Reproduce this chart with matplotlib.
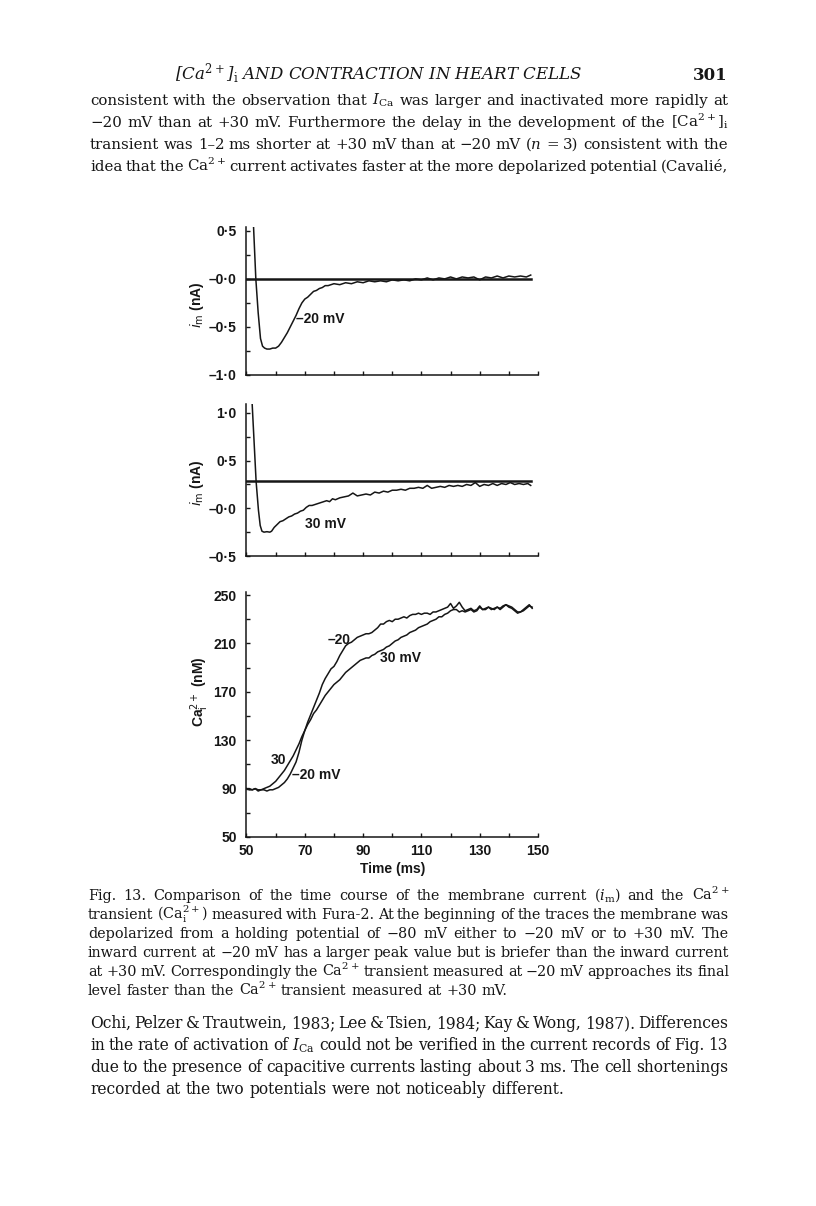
import matplotlib
matplotlib.use('Agg')
import matplotlib.pyplot as plt

plt.rcParams['font.family'] = ['Liberation Sans', 'DejaVu Sans']
plt.rcParams['mathtext.fontset'] = 'dejavuserif'

# --- membrane current, -20 mV step (nA) ---
t_im_m20 = [51.9, 53.2, 54.0, 54.8, 55.5, 56.2, 57.0, 58.0, 59.0, 60.0, 61.0, 62.0, 63.0, 64.0,
            65.0, 66.0, 67.0, 68.0, 69.0, 70.0, 71.0, 72.0, 73.0, 74.0, 75.0, 76.0, 77.0, 78.0,
            79.0, 80.0, 82.0, 84.0, 86.0, 88.0, 90.0, 92.0, 94.0, 96.0, 98.0, 100.0, 102.0,
            104.0, 106.0, 108.0, 110.0, 112.0, 114.0, 116.0, 118.0, 120.0, 122.0, 124.0, 126.0,
            128.0, 130.0, 132.0, 134.0, 136.0, 138.0, 140.0, 142.0, 144.0, 146.0, 147.5]
im_m20 = [0.9, 0.0, -0.35, -0.62, -0.70, -0.72, -0.73, -0.73, -0.72, -0.72, -0.70, -0.66, -0.61,
          -0.56, -0.50, -0.44, -0.38, -0.31, -0.25, -0.21, -0.19, -0.16, -0.13, -0.12, -0.10,
          -0.09, -0.07, -0.07, -0.06, -0.05, -0.06, -0.04, -0.05, -0.03, -0.04, -0.02, -0.03,
          -0.02, -0.03, -0.01, -0.02, -0.01, -0.02, 0.00, -0.01, 0.01, -0.01, 0.01, 0.00, 0.02,
          0.00, 0.02, 0.01, 0.02, -0.01, 0.02, 0.01, 0.03, 0.01, 0.03, 0.02, 0.03, 0.02, 0.04]
hold_m20 = 0.0

# --- membrane current, +30 mV step (nA) ---
t_im_p30 = [51.6, 53.3, 54.1, 54.7, 55.3, 56.0, 57.0, 58.0, 58.6, 59.5, 60.5, 61.5, 62.5, 63.5,
            64.5, 65.5, 66.5, 67.5, 68.5, 69.5, 70.5, 71.5, 72.5, 73.5, 74.5, 75.5, 76.5, 77.5,
            78.5, 79.5, 80.5, 82.0, 83.5, 85.0, 86.5, 88.0, 89.5, 91.0, 92.5, 94.0, 95.5, 97.0,
            98.5, 100.0, 101.5, 103.0, 104.5, 106.0, 107.5, 109.0, 110.5, 112.0, 113.5, 115.0,
            116.5, 118.0, 119.5, 121.0, 122.5, 124.0, 125.5, 127.0, 128.5, 130.0, 131.5, 133.0,
            134.5, 136.0, 137.5, 139.0, 140.5, 142.0, 143.5, 145.0, 146.5, 147.5]
im_p30 = [1.3, 0.28, -0.02, -0.18, -0.24, -0.25, -0.245, -0.25, -0.24, -0.20, -0.17, -0.14, -0.13,
          -0.11, -0.09, -0.08, -0.06, -0.05, -0.03, -0.02, 0.01, 0.03, 0.03, 0.04, 0.05, 0.06,
          0.07, 0.08, 0.07, 0.10, 0.09, 0.11, 0.12, 0.13, 0.16, 0.13, 0.14, 0.15, 0.14, 0.17,
          0.16, 0.18, 0.17, 0.19, 0.19, 0.20, 0.19, 0.21, 0.21, 0.22, 0.21, 0.24, 0.21, 0.22,
          0.23, 0.22, 0.24, 0.23, 0.24, 0.23, 0.25, 0.24, 0.27, 0.23, 0.25, 0.24, 0.26, 0.24,
          0.26, 0.25, 0.27, 0.25, 0.26, 0.25, 0.26, 0.24]
hold_p30 = 0.286

# --- Ca transients (nM) ---
t_ca = [50, 51, 52, 53, 54, 55, 56, 57, 58, 59, 60, 61, 62, 63, 64, 65, 66, 67, 68, 69,
        70, 71, 72, 73, 74, 75, 76, 77, 78, 79, 80, 81, 82, 83, 84, 85, 86, 87, 88, 89,
        90, 91, 92, 93, 94, 95, 96, 97, 98, 99, 100, 101, 102, 103, 104, 105, 106, 107, 108, 109,
        110, 111, 112, 113, 114, 115, 116, 117, 118, 119, 120, 121, 122, 123, 124, 125, 126, 127, 128, 129,
        130, 131, 132, 133, 134, 135, 136, 137, 138, 139, 140, 141, 142, 143, 144, 145, 146, 147, 148]
ca_m20 = [90, 90, 89, 90, 88, 89, 89, 88, 89, 89, 90, 91, 93, 95, 98, 102, 107, 112, 120, 130,
          138, 145, 151, 157, 163, 169, 176, 181, 185, 189, 191, 195, 200, 204, 208, 210, 211, 213, 215, 216,
          217, 218, 218, 219, 221, 223, 226, 226, 228, 229, 228, 230, 230, 231, 232, 231, 233, 234, 234, 235,
          234, 235, 235, 234, 236, 236, 237, 238, 239, 240, 243, 239, 241, 244, 240, 237, 238, 239, 237, 238,
          241, 238, 239, 240, 238, 239, 240, 238, 240, 242, 241, 240, 238, 236, 236, 238, 240, 242, 239]
ca_p30 = [90, 89, 89, 90, 89, 89, 90, 91, 92, 94, 96, 99, 102, 105, 109, 113, 117, 122, 127, 133,
          138, 143, 147, 152, 155, 159, 163, 167, 170, 173, 176, 178, 180, 183, 186, 188, 190, 192, 194, 196,
          197, 198, 198, 200, 201, 203, 204, 205, 207, 208, 210, 212, 213, 215, 216, 217, 219, 220, 221, 223,
          224, 225, 226, 228, 229, 230, 232, 232, 234, 235, 237, 238, 238, 236, 237, 236, 237, 238, 236, 237,
          240, 238, 238, 240, 239, 238, 240, 239, 241, 242, 240, 239, 237, 235, 236, 237, 239, 241, 240]

im1_ticks = [0.5, 0.0, -0.5, -1.0]
im1_labels = ['0·5', '–0·0', '–0·5', '–1·0']
im2_ticks = [1.0, 0.5, 0.0, -0.5]
im2_labels = ['1·0', '0·5', '–0·0', '–0·5']
ca_ticks = [50, 90, 130, 170, 210, 250]
time_ticks = [50, 70, 90, 110, 130, 150]

header = r'[$\mathit{Ca}^{2+}$]$_\mathrm{i}$ AND CONTRACTION IN HEART CELLS'
para1 = [
    r'consistent with the observation that $I_\mathrm{Ca}$ was larger and inactivated more rapidly at',
    r'−20 mV than at +30 mV. Furthermore the delay in the development of the [Ca$^{2+}$]$_\mathrm{i}$',
    r'transient was 1–2 ms shorter at +30 mV than at −20 mV ($n$ = 3) consistent with the',
    r'idea that the Ca$^{2+}$ current activates faster at the more depolarized potential (Cavalié,',
]
caption = [
    r'Fig. 13. Comparison of the time course of the membrane current ($i_\mathrm{m}$) and the Ca$^{2+}$',
    r'transient (Ca$_\mathrm{i}^{2+}$) measured with Fura-2. At the beginning of the traces the membrane was',
    r'depolarized from a holding potential of −80 mV either to −20 mV or to +30 mV. The',
    r'inward current at −20 mV has a larger peak value but is briefer than the inward current',
    r'at +30 mV. Correspondingly the Ca$^{2+}$ transient measured at −20 mV approaches its final',
    r'level faster than the Ca$^{2+}$ transient measured at +30 mV.',
]
para2 = [
    r'Ochi, Pelzer & Trautwein, 1983; Lee & Tsien, 1984; Kay & Wong, 1987). Differences',
    r'in the rate of activation of $I_\mathrm{Ca}$ could not be verified in the current records of Fig. 13',
    r'due to the presence of capacitive currents lasting about 3 ms. The cell shortenings',
    r'recorded at the two potentials were not noticeably different.',
]

W, H = 816, 1206
fig = plt.figure(figsize=(W / 100, H / 100), dpi=100)
fig.patch.set_facecolor('white')
ink = '#161616'
renderer = fig.canvas.get_renderer()


def px(x, y):
    return x / W, 1 - y / H


def word_texts(words, y, size, x0):
    return [fig.text(*px(x0, y), w, fontsize=size, va='baseline', ha='left',
                     family='DejaVu Serif', color=ink) for w in words]


def put_para(lines, y0, step, size, x0=90, x1=728, justify_last=False):
    # one font size for the whole paragraph, words spread to fill each justified line
    n_just = len(lines) if justify_last else len(lines) - 1
    while size > 6:
        ok = True
        for line in lines[:n_just]:
            words = line.split()
            objs = word_texts(words, y0, size, x0)
            used = sum(o.get_window_extent(renderer).width for o in objs)
            for o in objs:
                o.remove()
            gap = (x1 - x0 - used) / (len(words) - 1)
            if gap < 0.55 * 0.32 * size * 100 / 72:
                ok = False
                break
        if ok:
            break
        size -= 0.2
    for i, line in enumerate(lines):
        words = line.split()
        y = y0 + step * i
        objs = word_texts(words, y, size, x0)
        widths = [o.get_window_extent(renderer).width for o in objs]
        if i < n_just:
            gap = (x1 - x0 - sum(widths)) / (len(words) - 1)
        else:
            gap = 0.32 * size * 100 / 72
        x = x0
        for o, w in zip(objs, widths):
            o.set_x(x / W)
            x += w + gap


# page text
fig.text(*px(378, 80), header, fontsize=12, style='italic', family='DejaVu Serif',
         color=ink, ha='center', va='baseline')
fig.text(*px(728, 80), '301', fontsize=12, weight='bold', family='DejaVu Serif',
         color=ink, ha='right', va='baseline')
put_para(para1, 105, 22, 12, justify_last=True)
put_para(caption, 900, 19, 10.6, x0=88, x1=729)
put_para(para2, 1028, 22, 12)


def style_axes(ax):
    for s in ['top', 'right']:
        ax.spines[s].set_visible(False)
    for s in ['left', 'bottom']:
        ax.spines[s].set_linewidth(1.1)
        ax.spines[s].set_color(ink)
    ax.tick_params(which='both', direction='in', length=3, width=1, color=ink,
                   labelsize=10, pad=7, labelcolor=ink)
    ax.set_xlim(50, 150)
    ax.patch.set_alpha(0)


left, width = 246.5 / W, 291.5 / W

# panel 1: -20 mV current
ax1 = fig.add_axes([left, 1 - 375 / H, width, 148 / H])
style_axes(ax1)
ax1.set_ylim(-1.0, 0.54)
ax1.plot([50, 147.5], [hold_m20, hold_m20], color=ink, lw=1.8)
ax1.plot(t_im_m20, im_m20, color=ink, lw=1.1)
ax1.set_yticks(im1_ticks)
ax1.set_yticklabels(im1_labels, fontweight='bold')
ax1.set_yticks([0.25, -0.25, -0.75], minor=True)
ax1.set_xticks([50, 60, 70, 80, 90, 100, 110, 120, 130, 140, 150])
ax1.set_xticklabels([])
ax1.text(66.9, -0.42, '–20 mV', fontsize=10, weight='bold', color=ink, ha='left', va='center')

# panel 2: +30 mV current
ax2 = fig.add_axes([left, 1 - 556 / H, width, 152 / H])
style_axes(ax2)
ax2.set_ylim(-0.5, 1.094)
ax2.plot([50, 147.5], [hold_p30, hold_p30], color=ink, lw=1.8)
ax2.plot(t_im_p30, im_p30, color=ink, lw=1.1)
ax2.set_yticks(im2_ticks)
ax2.set_yticklabels(im2_labels, fontweight='bold')
ax2.set_yticks([0.75, 0.25, -0.25], minor=True)
ax2.set_xticks([50, 60, 70, 80, 90, 100, 110, 120, 130, 140, 150])
ax2.set_xticklabels([])
ax2.text(70.2, -0.16, '30 mV', fontsize=10, weight='bold', color=ink, ha='left', va='center')

# panel 3: Ca transients
ax3 = fig.add_axes([left, 1 - 837 / H, width, 245 / H])
style_axes(ax3)
ax3.set_ylim(50, 252.5)
ax3.plot(t_ca, ca_m20, color=ink, lw=1.1)
ax3.plot(t_ca, ca_p30, color=ink, lw=1.1)
ax3.set_yticks(ca_ticks)
ax3.set_yticklabels([str(v) for v in ca_ticks], fontweight='bold')
ax3.set_yticks([70, 110, 150, 190, 230], minor=True)
ax3.set_xticks(time_ticks)
ax3.set_xticklabels([str(v) for v in time_ticks], fontweight='bold')
ax3.set_xticks([60, 80, 100, 120, 140], minor=True)
ax3.tick_params(axis='x', pad=5)
ax3.text(77.7, 212.7, '–20', fontsize=10, weight='bold', color=ink, ha='left', va='center')
ax3.text(95.8, 198, '30 mV', fontsize=10, weight='bold', color=ink, ha='left', va='center')
ax3.text(58.2, 113.6, '30', fontsize=10, weight='bold', color=ink, ha='left', va='center')
ax3.text(65.7, 101, '–20 mV', fontsize=10, weight='bold', color=ink, ha='left', va='center')

# axis titles
fig.text(*px(197, 305), r'$i_\mathrm{m}$ (nA)', fontsize=10, weight='bold', rotation=90,
         ha='center', va='center', color=ink, math_fontfamily='dejavusans')
fig.text(*px(197, 483), r'$i_\mathrm{m}$ (nA)', fontsize=10, weight='bold', rotation=90,
         ha='center', va='center', color=ink, math_fontfamily='dejavusans')
fig.text(*px(200, 692), r'Ca$_\mathrm{i}^{2+}$ (nM)', fontsize=10, weight='bold', rotation=90,
         ha='center', va='center', color=ink, math_fontfamily='dejavusans')
fig.text(*px(393, 869), 'Time (ms)', fontsize=10, weight='bold', ha='center', va='center', color=ink)

fig.savefig('out.png', dpi=100, facecolor='white')
